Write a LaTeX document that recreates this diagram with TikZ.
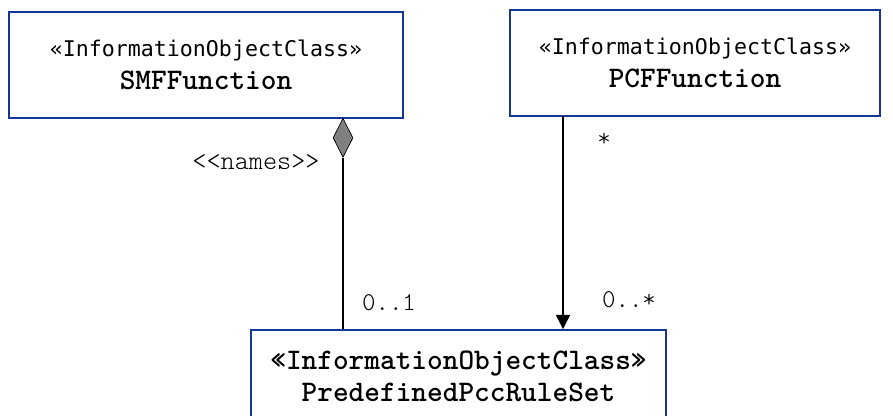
\documentclass[tikz,border=0pt]{standalone}
\usepackage{fontspec}
\newfontfamily\stereofont{DejaVu Sans Mono}
\newfontfamily\umlmono{Latin Modern Mono Light}
\usetikzlibrary{shapes.geometric, arrows.meta, positioning}
\definecolor{umlblue}{RGB}{20,55,150}

\begin{document}
\begin{tikzpicture}[x=0.02cm,y=-0.02cm, every node/.style={font=\umlmono},
    classbox/.style={draw=umlblue, line width=1.1pt, align=center, inner sep=0pt, minimum height=2.12cm},
    classname/.style={font=\fontsize{17}{17}\umlmono\bfseries}]
    \useasboundingbox (0,0) rectangle (893,416);
    % classes
    \node[classbox, classname, minimum width=7.88cm] (smf) at (206,65)
        {{\fontsize{12.3}{17}\stereofont\mdseries «InformationObjectClass»}\\[2pt]SMFFunction};
    \node[classbox, classname, minimum width=7.4cm] (pcf) at (695,63)
        {{\fontsize{12.3}{17}\stereofont\mdseries «InformationObjectClass»}\\[2pt]PCFFunction};
    \node[classbox, classname, minimum width=8.3cm, minimum height=1.86cm] (rule) at (458.5,376.5)
        {«InformationObjectClass»\\[1pt]PredefinedPccRuleSet};
    % aggregation
    \node[draw, diamond, fill=black!50, thin, inner sep=0pt, minimum width=0.4cm, minimum height=0.78cm, anchor=north] (agg) at (343,118) {};
    \draw[line width=0.7pt] (agg.south) -- (agg.south |- rule.north);
    \node[font=\fontsize{15.3}{16}\umlmono] (names) at (256,162) {<{}<names>{}>};
    \node[font=\fontsize{14.6}{16}\umlmono] (m01) at (389,303) {0..1};
    % association
    \coordinate (pcfout) at (563,116);
    \draw[line width=0.7pt, -{Triangle[length=8pt, width=8pt]}] (pcfout) -- (pcfout |- rule.north);
    \node[font=\fontsize{14.6}{16}\umlmono] (mstar) at (604,140) {*};
    \node[font=\fontsize{14.6}{16}\umlmono] (m0n) at (629,300) {0..*};
\end{tikzpicture}
\end{document}
